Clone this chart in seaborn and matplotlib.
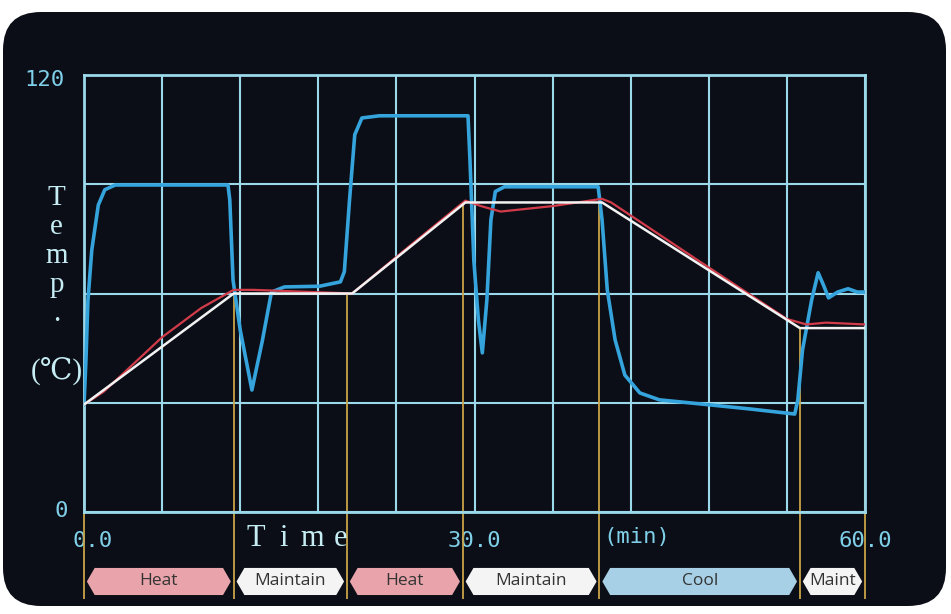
import numpy as np
import pandas as pd
import matplotlib.pyplot as plt
import seaborn as sns
from matplotlib.patches import Polygon, FancyBboxPatch
from matplotlib.transforms import ScaledTranslation, blended_transform_factory

# setpoint program (white)
set_t = [0, 11.5, 20.6, 29.3, 39.8, 55.0, 60]
set_temp = [29.5, 60, 60, 85, 85, 50.5, 50.5]

# measured temperature (red)
meas_t = [0, 1.5, 6, 9, 11.5, 13, 20.6, 25, 29.3, 30.5, 32, 36, 39.8, 40.5, 47, 54, 55.5, 57, 60]
meas_temp = [29.5, 33, 48, 56, 61, 61, 60, 73, 85.5, 84, 82.5, 84, 86, 85, 69.5, 53, 51.5, 52, 51.5]

# output trace (blue)
out_t = [0, 0.15, 0.3, 0.6, 1.1, 1.6, 2.4, 11.06, 11.2, 11.45, 12.0, 12.9, 13.7, 14.4, 15.4,
         18.1, 19.7, 20.0, 20.4, 20.8, 21.35, 22.7, 29.5, 29.65, 29.95, 30.3, 30.6, 30.95,
         31.26, 31.6, 32.3, 39.5, 39.8, 40.2, 40.8, 41.55, 42.7, 44.2, 47.3, 51.15, 54.6,
         54.84, 55.2, 55.9, 56.4, 56.8, 57.2, 57.9, 58.7, 59.4, 60]
out_val = [29.4, 41.8, 58, 72, 84.3, 88.5, 89.8, 89.8, 85.7, 63.7, 50, 33.5, 47, 60.4, 61.8,
           62, 63.2, 66, 85.7, 103.6, 108.2, 108.8, 108.8, 96.7, 69, 52.7, 43.7, 58.2,
           80.2, 88, 89.3, 89.3, 80.2, 61, 47.3, 37.6, 32.7, 30.8, 29.7, 28.3, 26.9,
           30.8, 44.5, 58.2, 65.7, 62.4, 58.8, 60.4, 61.3, 60.4, 60.4]

# phases
phase_edges = [0, 11.5, 20.2, 29.1, 39.6, 55.0, 60.0]
phase_names = ['Heat', 'Maintain', 'Heat', 'Maintain', 'Cool', 'Maint']
phase_colors = ['#e9a4ab', '#f4f4f4', '#e9a4ab', '#f4f4f4', '#a7d0e6', '#f4f4f4']

screen = '#0b0e16'
grid_c = '#9ad8ea'
tick_c = '#7fcfe8'
cap_c = '#c6ecf4'

sns.set_style('dark', rc={'axes.facecolor': screen, 'axes.edgecolor': grid_c})

fig = plt.figure(figsize=(9.51, 6.14), dpi=100)
fig.patch.set_facecolor('white')
bg = FancyBboxPatch((3, 8), 943, 594, boxstyle='round,pad=0,rounding_size=38',
                    transform=None, facecolor=screen, edgecolor='none', zorder=-10)
fig.patches.append(bg)
ax = fig.add_axes([84 / 951, 102 / 614, 781 / 951, 437 / 614])

ax.set_xlim(0, 60)
ax.set_ylim(0, 120)
ax.set_xticks([0, 30, 60])
ax.set_xticklabels(['0.0', '30.0', '60.0'])
ax.set_xticks(np.arange(0, 61, 6), minor=True)
ax.set_yticks([0, 120])
ax.set_yticks([30, 60, 90], minor=True)
ax.grid(True, which='both', color=grid_c, lw=1.5, zorder=1)
ax.set_axisbelow(True)
for s in ax.spines.values():
    s.set_color(grid_c)
    s.set_linewidth(2)
ax.tick_params(which='both', length=0, colors=tick_c, labelsize=16)
ax.tick_params(axis='x', pad=14)
ax.tick_params(axis='y', pad=14)
for lbl in ax.get_xticklabels() + ax.get_yticklabels():
    lbl.set_family('DejaVu Sans Mono')
xl = ax.get_xticklabels()
xl[0].set_transform(xl[0].get_transform() + ScaledTranslation(0.09, 0, fig.dpi_scale_trans))
yl = ax.get_yticklabels()
yl[0].set_transform(yl[0].get_transform() + ScaledTranslation(0.03, 0.03, fig.dpi_scale_trans))
yl[1].set_transform(yl[1].get_transform() + ScaledTranslation(0, -0.03, fig.dpi_scale_trans))

# phase boundary lines
edge_top = np.interp(phase_edges, set_t, set_temp)
ax.vlines(phase_edges, -24, edge_top, colors='#c9a347', lw=1.3, clip_on=False, zorder=2)

out_df = pd.DataFrame({'t': out_t, 'v': out_val})
meas_df = pd.DataFrame({'t': meas_t, 'v': meas_temp})
set_df = pd.DataFrame({'t': set_t, 'v': set_temp})
sns.lineplot(data=out_df, x='t', y='v', ax=ax, color='#35a3dc', lw=2.6, sort=False, zorder=3)
sns.lineplot(data=meas_df, x='t', y='v', ax=ax, color='#d23c4a', lw=1.6, sort=False, zorder=4)
sns.lineplot(data=set_df, x='t', y='v', ax=ax, color='#f2f2f2', lw=1.8, sort=False, zorder=5)
ax.set_xlabel('')
ax.set_ylabel('')

# axis captions, one character at a time like the screen font
cap_font = ['Liberation Serif', 'DejaVu Serif', 'Noto Sans CJK JP']
for i, ch in enumerate(['T', 'e', 'm', 'p', '.', '', '(℃)']):
    ax.text(-0.035, 0.702 - i * 29 / 437, ch, transform=ax.transAxes, ha='center',
            va='baseline', family=cap_font, fontsize=21, color=cap_c)
trx = blended_transform_factory(ax.transData, ax.transAxes)
for i, ch in enumerate('Time'):
    ax.text(13.2 + i * 2.17, -0.028, ch, transform=trx, ha='center', va='top',
            family=cap_font, fontsize=22, color=cap_c)
ax.text(39.9, -0.057, '(min)', transform=trx, ha='left', va='center',
        family='DejaVu Sans Mono', fontsize=16, color=tick_c)

# phase tags
gap, tip = 0.22, 0.6
top, bot = -0.128, -0.19
mid = (top + bot) / 2
for a, b, name, c in zip(phase_edges[:-1], phase_edges[1:], phase_names, phase_colors):
    l, r = a + gap, b - gap
    pts = [(l, mid), (l + tip, top), (r - tip, top), (r, mid), (r - tip, bot), (l + tip, bot)]
    ax.add_patch(Polygon(pts, closed=True, transform=trx, facecolor=c, edgecolor='none',
                         clip_on=False, zorder=3))
    ax.text((l + r) / 2, mid, name, transform=trx, ha='center', va='center',
            family='Open Sans', fontsize=12.5, color='#333333', zorder=4)

fig.savefig('out.png', dpi=100, facecolor=fig.get_facecolor())
